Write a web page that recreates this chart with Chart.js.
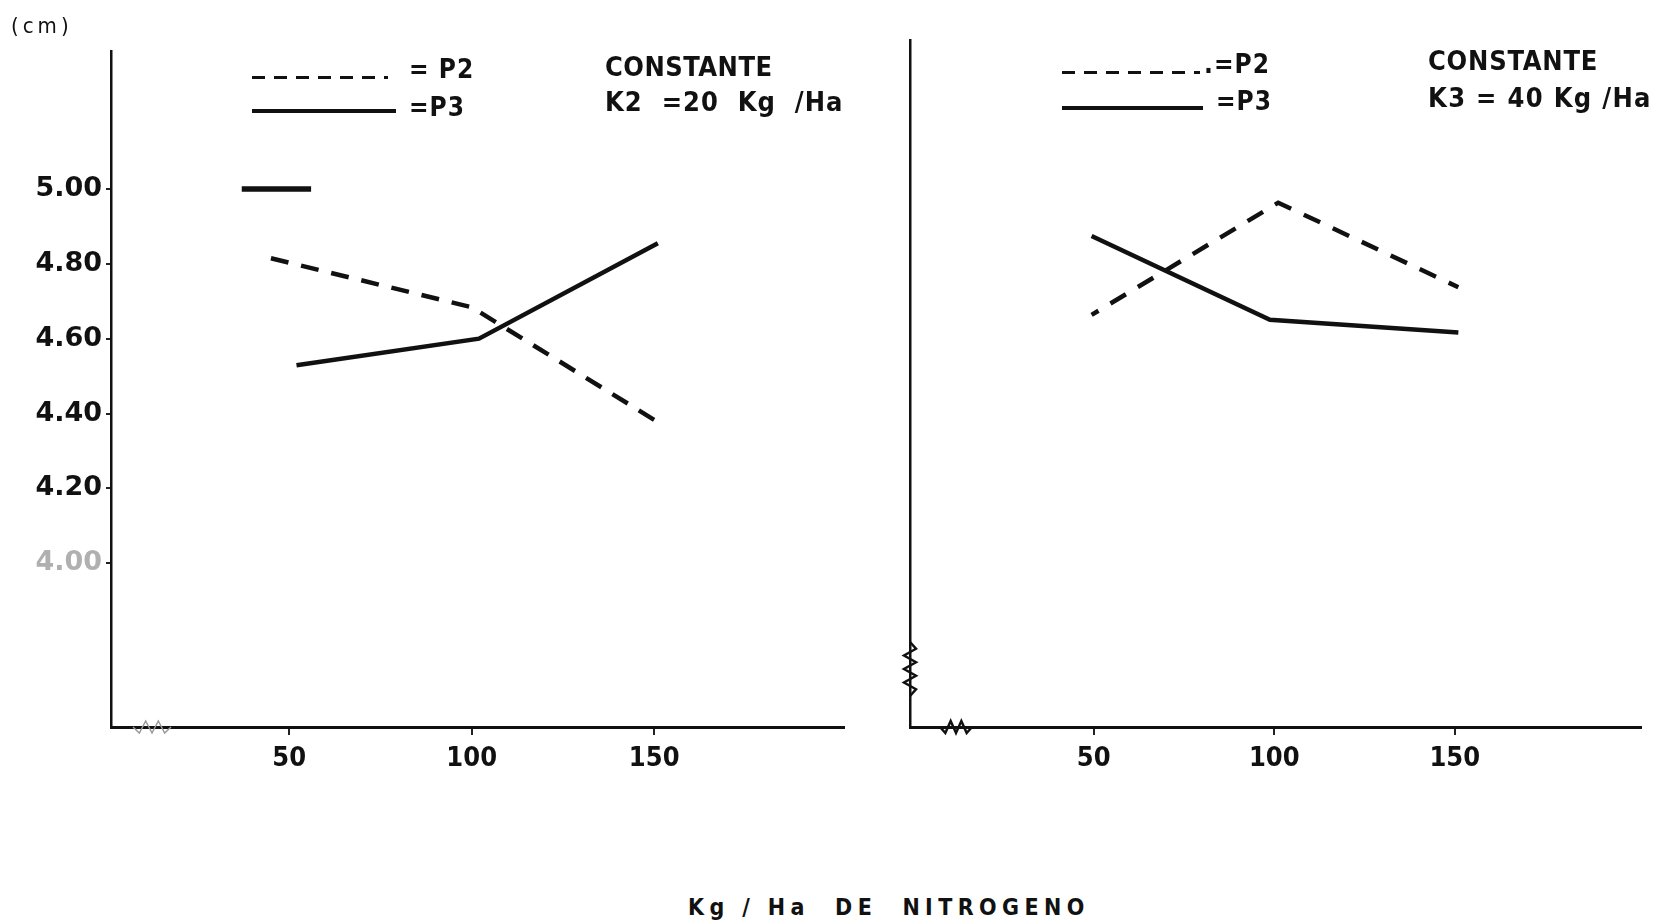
<!DOCTYPE html>
<html><head><meta charset="utf-8">
<script src="https://cdn.jsdelivr.net/npm/chart.js@4.4.1/dist/chart.umd.min.js"></script>
<style>
html,body{margin:0;padding:0;background:#fff;width:1665px;height:923px;overflow:hidden;position:relative;font-family:"DejaVu Sans Condensed","DejaVu Sans",sans-serif;color:#111}
canvas{position:absolute;top:0}
#cLeft{left:0}
#cRight{left:860px}
.t{position:absolute;white-space:pre;line-height:1;font-weight:bold}
.dash{position:absolute;height:3px;background:repeating-linear-gradient(90deg,#111 0 13px,transparent 13px 22px)}
.solid{position:absolute;height:3.5px;background:#111}
</style></head><body>
<canvas id="cLeft" width="860" height="800"></canvas>
<canvas id="cRight" width="805" height="800"></canvas>

<div class="t" style="left:11px;top:15px;font-size:22px;font-weight:normal;letter-spacing:4px">(cm)</div>

<div class="dash" style="left:252px;top:76px;width:136px"></div>
<div class="t" style="left:409px;top:56px;font-size:26px;letter-spacing:1px">= P2</div>
<div class="solid" style="left:252px;top:109px;width:144px"></div>
<div class="t" style="left:409px;top:94px;font-size:26px;letter-spacing:1px">=P3</div>
<div class="t" style="left:605px;top:53px;font-size:27px;letter-spacing:0.5px">CONSTANTE</div>
<div class="t" style="left:605px;top:88px;font-size:27px;letter-spacing:1px">K2  =20  Kg  /Ha</div>

<div class="dash" style="left:1062px;top:71px;width:138px"></div>
<div class="t" style="left:1204px;top:51px;font-size:26px;letter-spacing:1px">.=P2</div>
<div class="solid" style="left:1062px;top:106px;width:141px"></div>
<div class="t" style="left:1216px;top:88px;font-size:26px;letter-spacing:1px">=P3</div>
<div class="t" style="left:1428px;top:47px;font-size:27px;letter-spacing:0.8px">CONSTANTE</div>
<div class="t" style="left:1428px;top:84px;font-size:27px;letter-spacing:1.3px">K3 = 40 Kg /Ha</div>

<div class="t" style="left:688px;top:896px;font-size:23px;letter-spacing:5.4px">Kg / Ha  DE  NITROGENO</div>

<script>
// ---- data ----
const xTickValues = [50, 100, 150];
const yTickValues = [4.0, 4.2, 4.4, 4.6, 4.8, 5.0];

// Left panel: K2 = 20 Kg/Ha
const leftP2X = [45, 100, 151];
const leftP2Y = [4.815, 4.684, 4.377];
const leftP3X = [52, 102, 151];
const leftP3Y = [4.529, 4.600, 4.855];
const leftMarkX = [37, 56];
const leftMarkY = [5.00, 5.00];

// Right panel: K3 = 40 Kg/Ha
const rightP2X = [49.4, 101.1, 151];
const rightP2Y = [4.663, 4.963, 4.737];
const rightP3X = [49.4, 98.8, 151];
const rightP3Y = [4.874, 4.650, 4.616];

const FONT = '"DejaVu Sans Condensed","DejaVu Sans",sans-serif';
const pts = (xs, ys) => xs.map((x, i) => ({x: x, y: ys[i]}));

function zigzag(ctx, x0, y0, x1, y1, n, amp) {
  const dx = (x1 - x0) / n, dy = (y1 - y0) / n;
  const len = Math.hypot(x1 - x0, y1 - y0);
  const nx = -(y1 - y0) / len, ny = (x1 - x0) / len;
  ctx.beginPath();
  ctx.moveTo(x0, y0);
  for (let i = 1; i <= n; i++) {
    const s = (i === n) ? 0 : (i % 2 ? amp : -amp);
    ctx.lineTo(x0 + dx * i + nx * s, y0 + dy * i + ny * s);
  }
  ctx.stroke();
}

function makeChart(id, datasets, opt) {
  const breakPlugin = {
    id: 'axisBreak',
    afterDraw(chart) {
      const a = chart.chartArea, ctx = chart.ctx;
      ctx.save();
      ctx.lineWidth = opt.breakWidth;
      ctx.strokeStyle = opt.breakColor;
      zigzag(ctx, a.left + opt.xBreak[0], a.bottom, a.left + opt.xBreak[1], a.bottom, 6, 6);
      if (opt.yBreak) zigzag(ctx, a.left, a.bottom - opt.yBreak[0], a.left, a.bottom - opt.yBreak[1], 8, 6);
      ctx.restore();
    }
  };
  return new Chart(document.getElementById(id), {
    type: 'line',
    data: { datasets: datasets },
    options: {
      responsive: false,
      animation: false,
      devicePixelRatio: 1,
      layout: { padding: opt.padding },
      plugins: { legend: { display: false }, tooltip: { enabled: false } },
      elements: { point: { radius: 0 }, line: { tension: 0 } },
      scales: {
        x: {
          type: 'linear', min: opt.xmin, max: opt.xmax,
          afterBuildTicks: s => { s.ticks = xTickValues.map(v => ({value: v})); },
          afterFit: s => { s.height = 73; },
          grid: { drawOnChartArea: false, drawTicks: true, tickLength: 8, color: '#222', lineWidth: 2 },
          border: { display: true, color: '#111', width: 3 },
          ticks: { color: '#111', padding: 8, font: { family: FONT, size: 27, weight: 'bold' }, callback: v => String(v) }
        },
        y: {
          type: 'linear', min: opt.ymin, max: opt.ymax,
          afterBuildTicks: s => { s.ticks = yTickValues.map(v => ({value: v})); },
          afterFit: s => { s.width = opt.yWidth; },
          grid: { drawOnChartArea: false, drawTicks: opt.yLabels, tickLength: 5, color: '#222', lineWidth: 2 },
          border: { display: true, color: '#111', width: 2.5 },
          ticks: {
            display: opt.yLabels, padding: 4,
            color: c => (c.tick && c.tick.value === 4.0) ? '#b0b0b0' : '#111',
            font: { family: '"DejaVu Sans",sans-serif', size: 27, weight: 'bold' },
            callback: v => Number(v).toFixed(2)
          }
        }
      }
    },
    plugins: [breakPlugin]
  });
}

makeChart('cLeft', [
  { label: 'P2', data: pts(leftP2X, leftP2Y), borderColor: '#111', borderWidth: 4.5, borderDash: [18, 13], fill: false },
  { label: 'P3', data: pts(leftP3X, leftP3Y), borderColor: '#111', borderWidth: 4.5, fill: false },
  { label: '', data: pts(leftMarkX, leftMarkY), borderColor: '#111', borderWidth: 5.5, fill: false }
], {
  padding: { top: 51, right: 16, left: 0, bottom: 0 },
  xmin: 1.18, xmax: 202, ymin: 3.562, ymax: 5.369, yWidth: 111, yLabels: true,
  xBreak: [22, 60], breakColor: '#999', breakWidth: 1.5
});

makeChart('cRight', [
  { label: 'P2', data: pts(rightP2X, rightP2Y), borderColor: '#111', borderWidth: 4.5, borderDash: [18, 14], borderDashOffset: 10, fill: false },
  { label: 'P3', data: pts(rightP3X, rightP3Y), borderColor: '#111', borderWidth: 4.5, fill: false }
], {
  padding: { top: 40, right: 24, left: 0, bottom: 0 },
  xmin: -0.91, xmax: 201.6, ymin: 3.561, ymax: 5.398, yWidth: 50, yLabels: false,
  xBreak: [30, 62], yBreak: [31, 85], breakColor: '#111', breakWidth: 2.5
});
</script>
</body></html>
